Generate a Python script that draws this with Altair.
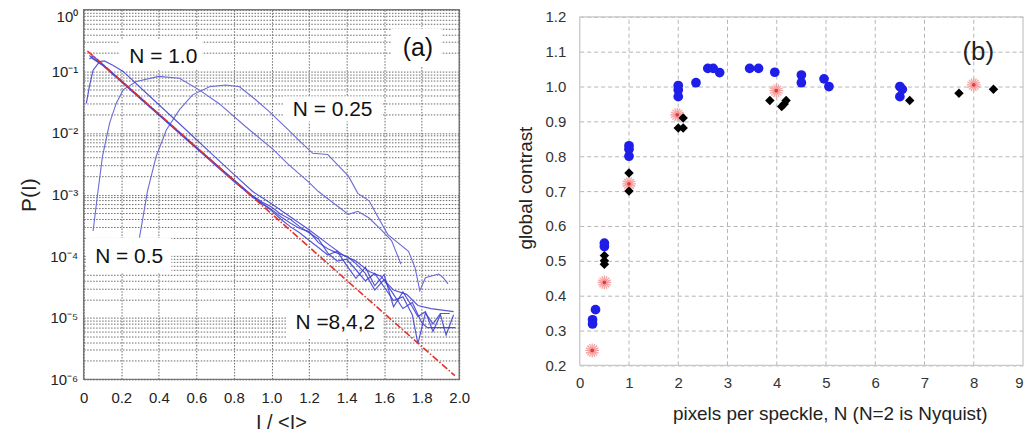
import altair as alt
import pandas as pd

FONT = "Liberation Sans"

# ---------------- panel (a): P(I) vs I/<I>  (values stored as log10 P) ----------------
n025_x = [0.297, 0.34, 0.386, 0.44, 0.51, 0.58, 0.67, 0.757, 0.83, 0.916, 0.987, 1.09, 1.16, 1.22, 1.30,
          1.36, 1.41, 1.46, 1.52, 1.57, 1.62, 1.73, 1.765, 1.79, 1.82, 1.89, 1.915, 1.94]
n025_lp = [-3.70, -2.94, -2.38, -1.95, -1.62, -1.38, -1.25, -1.22, -1.25, -1.46, -1.65, -1.95, -2.16, -2.33, -2.35,
           -2.54, -2.70, -2.98, -3.10, -3.38, -3.65, -3.92, -4.19, -4.56, -4.35, -4.29, -4.35, -4.45]

n05_x = [0.05, 0.075, 0.10, 0.138, 0.173, 0.21, 0.28, 0.40, 0.51, 0.615, 0.72, 0.86, 1.01, 1.09, 1.20,
         1.25, 1.34, 1.41, 1.46, 1.52, 1.59, 1.64, 1.69]
n05_lp = [-3.59, -2.97, -2.38, -1.84, -1.52, -1.30, -1.165, -1.08, -1.11, -1.30, -1.52, -1.89, -2.27, -2.51, -2.80,
          -2.95, -3.16, -3.32, -3.27, -3.38, -3.59, -3.75, -4.13]

n1_x = [0.014, 0.03, 0.05, 0.085, 0.11, 0.155, 0.21, 0.333, 0.51, 0.686, 0.81, 0.9, 1.0, 1.1, 1.2,
        1.3, 1.38, 1.45, 1.52, 1.58, 1.65, 1.72, 1.78, 1.85, 1.92, 1.97]
n1_lp = [-1.52, -1.25, -0.98, -0.84, -0.83, -0.90, -1.0, -1.35, -1.85, -2.35, -2.70, -2.95, -3.15, -3.36, -3.57,
         -3.80, -3.98, -4.08, -4.25, -4.32, -4.55, -4.62, -4.80, -4.85, -4.88, -4.90]

n8_x = [0.03, 0.05, 0.1, 0.2, 0.3, 0.4, 0.5, 0.6, 0.7, 0.8, 0.9, 0.95, 1.0, 1.05, 1.1, 1.15, 1.2, 1.25, 1.3,
        1.35, 1.4, 1.45, 1.5, 1.55, 1.6, 1.65, 1.7, 1.75, 1.78, 1.82, 1.86, 1.9, 1.95]
n8_lp = [-0.80, -0.75, -0.88, -1.16, -1.43, -1.70, -1.97, -2.24, -2.50, -2.76, -3.02, -3.12, -3.20, -3.32, -3.40,
         -3.52, -3.62, -3.72, -3.95, -4.08, -4.05, -4.22, -4.40, -4.28, -4.50, -4.72, -4.66, -4.95, -5.42, -4.92,
         -5.10, -4.93, -4.93]

n4_x = [0.04, 0.1, 0.2, 0.3, 0.4, 0.5, 0.6, 0.7, 0.8, 0.9, 1.0, 1.05, 1.1, 1.15, 1.2, 1.25, 1.3, 1.35, 1.4,
        1.45, 1.5, 1.55, 1.6, 1.65, 1.7, 1.75, 1.8, 1.83, 1.98]
n4_lp = [-0.78, -0.90, -1.17, -1.44, -1.71, -1.98, -2.25, -2.52, -2.79, -3.04, -3.24, -3.36, -3.46, -3.55, -3.60,
         -3.78, -3.88, -3.95, -4.00, -4.12, -4.28, -4.55, -4.38, -4.62, -4.85, -4.75, -5.08, -5.16, -5.16]

n2_x = [0.03, 0.1, 0.2, 0.3, 0.4, 0.5, 0.6, 0.7, 0.8, 0.9, 1.0, 1.05, 1.1, 1.15, 1.2, 1.25, 1.3, 1.35, 1.4,
        1.45, 1.5, 1.55, 1.6, 1.65, 1.7, 1.75, 1.78, 1.82, 1.86, 1.9, 1.93, 1.97]
n2_lp = [-0.74, -0.89, -1.15, -1.42, -1.69, -1.96, -2.23, -2.50, -2.77, -3.03, -3.26, -3.40, -3.52, -3.62, -3.74,
         -3.86, -3.98, -3.92, -4.15, -4.36, -4.18, -4.48, -4.30, -4.82, -4.58, -4.82, -4.98, -4.90, -5.22, -4.95,
         -5.28, -4.95]

red_x = [0.02, 0.5, 1.0, 1.5, 1.977]
red_lp = [-0.668, -1.96, -3.31, -4.66, -5.94]

series_a = [("N025", n025_x, n025_lp), ("N05", n05_x, n05_lp), ("N1", n1_x, n1_lp),
            ("N8", n8_x, n8_lp), ("N4", n4_x, n4_lp), ("N2", n2_x, n2_lp)]
rows = []
for name, xs, lps in series_a:
    for i, (xv, lv) in enumerate(zip(xs, lps)):
        rows.append({"series": name, "x": xv, "lp": lv, "order": i})
df_lines = pd.DataFrame(rows)
df_red = pd.DataFrame({"x": red_x, "lp": red_lp})

ann_a_text = ["N = 1.0", "N = 0.25", "N = 0.5", "N =8,4,2", "(a)"]
ann_a_x = [0.424, 1.326, 0.242, 1.34, 1.78]
ann_a_p = [0.169, 0.0238, 9.8e-5, 8.3e-6, 0.238]
ann_a_size = [21, 21, 21, 21, 25]
df_ann_a = pd.DataFrame({"t": ann_a_text, "x": ann_a_x, "p": ann_a_p, "s": ann_a_size})

box_x = [0.191, 1.066, 0.016, 1.082, 1.639]
box_x2 = [0.631, 1.586, 0.467, 1.597, 1.905]
box_p = [0.327, 0.039, 1.97e-4, 1.45e-5, 0.493]
box_p2 = [0.111, 0.0154, 5.3e-5, 4.7e-6, 0.12]
df_box = pd.DataFrame({"x": box_x, "x2": box_x2, "p": box_p, "p2": box_p2})

xa_ticks = [0, 0.2, 0.4, 0.6, 0.8, 1.0, 1.2, 1.4, 1.6, 1.8, 2.0]
ya_ticks = [m * 10.0 ** e for e in range(-6, 0) for m in range(1, 10)] + [1.0]
ya_labels = "['10⁰','10⁻¹','10⁻²','10⁻³','10⁻⁴','10⁻⁵','10⁻⁶']"

xa_scale = alt.Scale(domain=[0, 2], nice=False)
ya_scale = alt.Scale(type="log", domain=[1e-6, 1], nice=False)

x_axis_a = alt.Axis(values=xa_ticks, tickCount=200,
                    labelExpr="datum.value == 0 ? '0' : format(datum.value, '.1f')",
                    labelOverlap=False, labelFlush=False,
                    title="I / <I>", titleFontSize=20, titleFont=FONT, titleFontWeight="normal",
                    titleColor="#222", titlePadding=7, titleX=198,
                    labelFontSize=15, labelFont=FONT, labelColor="#222", labelPadding=11,
                    ticks=False, domain=False, grid=True, gridDash=[1.5, 1.5], gridColor="#6a6a6a",
                    gridWidth=1)
y_axis_a = alt.Axis(values=ya_ticks, tickCount=200,
                    labelExpr="abs(log(datum.value)/LN10 - round(log(datum.value)/LN10)) < 0.001 ? "
                              + ya_labels + "[-round(log(datum.value)/LN10)] : ''",
                    labelOverlap=False,
                    labelBaseline=alt.condition("datum.value > 0.15", alt.value("top"), alt.value("middle")),
                    title="P(I)", titleFontSize=21, titleFont=FONT, titleFontWeight="normal",
                    titleColor="#222", titlePadding=10,
                    labelFontSize=15, labelFont=FONT, labelColor="#222", labelPadding=6,
                    ticks=False, domain=False, grid=True, gridDash=[1.5, 1.5], gridColor="#6a6a6a",
                    gridWidth=1)

boxes = alt.Chart(df_box).mark_rect(color="white").encode(
    x=alt.X("x:Q", scale=xa_scale, axis=x_axis_a),
    x2="x2:Q",
    y=alt.Y("p:Q", scale=ya_scale, axis=y_axis_a),
    y2="p2:Q",
)

line_base = alt.Chart(df_lines).transform_calculate(p="pow(10, datum.lp)")
wide_lines = line_base.transform_filter("datum.series == 'N025' || datum.series == 'N05'").mark_line(
    color="#6b6bd6", strokeWidth=1.1).encode(
    x=alt.X("x:Q", scale=xa_scale), y=alt.Y("p:Q", scale=ya_scale),
    detail="series:N", order="order:Q")
clus_lines = line_base.transform_filter("datum.series != 'N025' && datum.series != 'N05'").mark_line(
    color="#3b3bd2", strokeWidth=1.2, opacity=0.85).encode(
    x=alt.X("x:Q", scale=xa_scale), y=alt.Y("p:Q", scale=ya_scale),
    detail="series:N", order="order:Q")
red_line = alt.Chart(df_red).transform_calculate(p="pow(10, datum.lp)").mark_line(
    color="#e5302a", strokeWidth=1.6, strokeDash=[7, 2, 1.5, 2]).encode(
    x=alt.X("x:Q", scale=xa_scale), y=alt.Y("p:Q", scale=ya_scale))
texts_a = alt.Chart(df_ann_a).mark_text(font=FONT, color="#111", align="center", baseline="middle").encode(
    x=alt.X("x:Q", scale=xa_scale), y=alt.Y("p:Q", scale=ya_scale), text="t:N",
    size=alt.Size("s:Q", scale=None, legend=None))

left = alt.layer(boxes, wide_lines, clus_lines, red_line, texts_a).properties(
    width=377, height=371, view=alt.ViewBackground(stroke="#7a7a7a", strokeWidth=1.5))

# ---------------- panel (b): global contrast vs pixels per speckle ----------------
blue_x = [0.26, 0.26, 0.32, 0.5, 0.5, 1.0, 1.0, 1.0, 2.0, 2.0, 2.0, 2.36, 2.6, 2.71, 2.84, 3.45, 3.63,
          3.96, 4.5, 4.5, 4.96, 5.06, 6.5, 6.55, 6.5]
blue_y = [0.331, 0.319, 0.36, 0.551, 0.541, 0.83, 0.82, 0.80, 1.003, 0.99, 0.971, 1.011, 1.052, 1.052, 1.04,
          1.052, 1.052, 1.041, 1.033, 1.011, 1.022, 1.0, 1.0, 0.992, 0.971]
black_x = [0.5, 0.5, 0.5, 1.0, 1.0, 2.0, 2.1, 2.1, 3.86, 4.1, 4.15, 4.19, 6.7, 7.7, 8.4]
black_y = [0.515, 0.50, 0.49, 0.752, 0.70, 0.881, 0.881, 0.91, 0.96, 0.943, 0.95, 0.96, 0.96, 0.981, 0.992]
red_pts_x = [0.253, 0.5, 1.0, 1.98, 3.99, 8.0]
red_pts_y = [0.243, 0.438, 0.721, 0.919, 0.988, 1.005]

xb_ticks = [0, 1, 2, 3, 4, 5, 6, 7, 8, 9]
yb_ticks = [0.2, 0.3, 0.4, 0.5, 0.6, 0.7, 0.8, 0.9, 1.0, 1.1, 1.2]

df_blue = pd.DataFrame({"x": blue_x, "y": blue_y})
df_black = pd.DataFrame({"x": black_x, "y": black_y})
df_redp = pd.DataFrame({"x": red_pts_x, "y": red_pts_y})
df_ann_b = pd.DataFrame({"t": ["(b)"], "x": [8.09], "y": [1.098]})
# vertical grid lines (dashed) and the frame of panel (b), both ending at the 0.2 / 1.2 limits
df_vgrid = pd.DataFrame({"x": xb_ticks[1:-1], "y": [0.2] * 8, "y2": [1.2] * 8})
df_frame_v = pd.DataFrame({"x": [0, 9], "y": [0.2, 0.2], "y2": [1.2, 1.2]})
df_frame_h = pd.DataFrame({"y": [0.2, 1.2], "x": [0, 0], "x2": [9, 9]})

xb_scale = alt.Scale(domain=[0, 9], nice=False)
yb_scale = alt.Scale(domain=[0.2, 1.22], nice=False)
x_axis_b = alt.Axis(values=xb_ticks, tickCount=200, format="d", labelOverlap=False, labelFlush=False,
                    labelAlign=alt.condition("datum.value > 8.5", alt.value("right"), alt.value("center")),
                    title="pixels per speckle, N (N=2 is Nyquist)",
                    titleFontSize=19, titleFont=FONT, titleFontWeight="normal", titleColor="#222",
                    titlePadding=14, titleX=251,
                    labelFontSize=15, labelFont=FONT, labelColor="#333", labelPadding=10,
                    ticks=False, domain=False, grid=False)
y_axis_b = alt.Axis(values=yb_ticks, tickCount=200, format=".1f", labelOverlap=False,
                    title="global contrast", titleFontSize=19, titleFont=FONT, titleFontWeight="normal",
                    titleColor="#222", titlePadding=10,
                    labelFontSize=15, labelFont=FONT, labelColor="#333", labelPadding=14,
                    ticks=False, domain=False, grid=True, gridDash=[4, 3], gridColor="#b5b5b5")

vgrid = alt.Chart(df_vgrid).mark_rule(color="#b5b5b5", strokeDash=[4, 3], strokeWidth=1).encode(
    x=alt.X("x:Q", scale=xb_scale, axis=x_axis_b), y=alt.Y("y:Q", scale=yb_scale, axis=y_axis_b), y2="y2:Q")
frame_v = alt.Chart(df_frame_v).mark_rule(color="#c8c8c8", strokeWidth=1.3).encode(
    x=alt.X("x:Q", scale=xb_scale), y=alt.Y("y:Q", scale=yb_scale), y2="y2:Q")
frame_h = alt.Chart(df_frame_h).mark_rule(color="#c8c8c8", strokeWidth=1.3).encode(
    x=alt.X("x:Q", scale=xb_scale), x2="x2:Q", y=alt.Y("y:Q", scale=yb_scale))

star_path = ("M-1,0L1,0M0,-1L0,1M-0.71,-0.71L0.71,0.71M-0.71,0.71L0.71,-0.71"
             "M-0.38,-0.92L0.38,0.92M-0.92,-0.38L0.92,0.38M-0.38,0.92L0.38,-0.92M-0.92,0.38L0.92,-0.38")
red_star = alt.Chart(df_redp).mark_point(shape=star_path, filled=False, color="#f39a9a", strokeWidth=1.3,
                                         size=190, opacity=0.9).encode(
    x=alt.X("x:Q", scale=xb_scale), y=alt.Y("y:Q", scale=yb_scale))
red_core = alt.Chart(df_redp).mark_point(shape="circle", filled=True, color="#e53a3a", size=14, opacity=1).encode(
    x=alt.X("x:Q", scale=xb_scale), y=alt.Y("y:Q", scale=yb_scale))
blue_pts = alt.Chart(df_blue).mark_point(shape="circle", filled=True, color="#1e1ee8", size=95, opacity=1).encode(
    x=alt.X("x:Q", scale=xb_scale), y=alt.Y("y:Q", scale=yb_scale))
black_pts = alt.Chart(df_black).mark_point(shape="diamond", filled=True, color="#000000", size=90, opacity=1).encode(
    x=alt.X("x:Q", scale=xb_scale), y=alt.Y("y:Q", scale=yb_scale))
text_b = alt.Chart(df_ann_b).mark_text(font=FONT, fontSize=26, color="#222").encode(
    x=alt.X("x:Q", scale=xb_scale), y=alt.Y("y:Q", scale=yb_scale), text="t:N")

right = alt.layer(vgrid, frame_v, frame_h, red_star, red_core, black_pts, blue_pts, text_b).properties(
    width=445, height=357, view=alt.ViewBackground(stroke="transparent"))

chart = alt.hconcat(left, right, spacing=44).properties(
    padding={"left": 10, "top": 0, "right": 0, "bottom": 0}
).configure_view(fill="white")

chart.save("out.html", embed_options={"renderer": "svg", "actions": False})
